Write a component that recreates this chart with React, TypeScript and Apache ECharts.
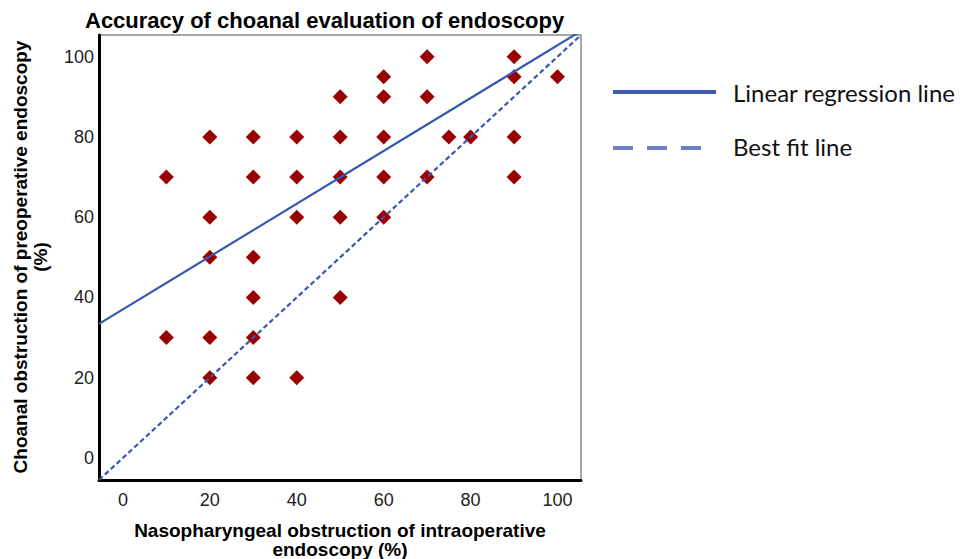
import React, { useEffect, useRef } from "react";
import * as echarts from "echarts";

const chartTitle = "Accuracy of choanal evaluation of endoscopy";
const xAxisName = "Nasopharyngeal obstruction of intraoperative\nendoscopy (%)";
const yAxisName = "Choanal obstruction of preoperative endoscopy\n(%)";
const xTicks = [0, 20, 40, 60, 80, 100];
const yTicks = [0, 20, 40, 60, 80, 100];
const intraop = [10, 10, 20, 20, 20, 20, 20, 30, 30, 30, 30, 30, 30, 40, 40, 40, 40, 50, 50, 50, 50, 50, 60, 60, 60, 60, 60, 70, 70, 70, 75, 80, 90, 90, 90, 90, 100];
const preop = [70, 30, 80, 60, 50, 30, 20, 80, 70, 50, 40, 30, 20, 80, 70, 60, 20, 90, 80, 70, 60, 40, 95, 90, 80, 70, 60, 100, 90, 70, 80, 80, 100, 95, 80, 70, 95];
const regressionX = [-5.5, 105.4];
const regressionY = [33.4, 106.4];
const bestFitX = [-5.5, 105.4];
const bestFitY = [-5.5, 105.4];
const legendNames = ["Linear regression line", "Best fit line"];

export default function App() {
  const ref = useRef<HTMLDivElement>(null);
  useEffect(() => {
    if (!ref.current) return;
    const chart = echarts.init(ref.current, null, { renderer: "svg" });
    const axisFont = "'Liberation Sans', Arial, sans-serif";
    chart.setOption({
      animation: false,
      backgroundColor: "#fff",
      grid: {
        left: 99,
        right: 392,
        top: 35,
        bottom: 79,
        show: true,
        borderColor: "#8a8a8a",
        borderWidth: 1.5,
        backgroundColor: "#fff",
      },
      xAxis: {
        type: "value",
        min: -5.5,
        max: 105.4,
        splitLine: { show: false },
        axisTick: { show: false },
        axisLine: { show: true, onZero: false, lineStyle: { color: "#000", width: 3 } },
        axisLabel: {
          customValues: xTicks,
          fontSize: 18,
          color: "#222",
          margin: 11,
          fontFamily: axisFont,
        },
      },
      yAxis: {
        type: "value",
        min: -5.5,
        max: 105.4,
        splitLine: { show: false },
        axisTick: { show: false },
        axisLine: { show: true, onZero: false, lineStyle: { color: "#000", width: 3 } },
        axisLabel: {
          customValues: yTicks,
          fontSize: 18,
          color: "#222",
          margin: 5,
          fontFamily: axisFont,
          padding: [6, 0, 0, 0],
        },
      },
      series: [
        {
          type: "scatter",
          symbol: "diamond",
          symbolSize: 15,
          itemStyle: { color: "#990000", opacity: 1 },
          data: intraop.map((x, i) => [x, preop[i]]),
          z: 2,
        },
        {
          type: "line",
          name: legendNames[0],
          showSymbol: false,
          symbol: "none",
          clip: true,
          lineStyle: { color: "#3558B0", width: 2.2 },
          data: regressionX.map((x, i) => [x, regressionY[i]]),
          z: 3,
        },
        {
          type: "line",
          name: legendNames[1],
          showSymbol: false,
          symbol: "none",
          clip: true,
          lineStyle: { color: "#3558B0", width: 2.2, type: [5, 3] },
          data: bestFitX.map((x, i) => [x, bestFitY[i]]),
          z: 3,
        },
      ],
      graphic: [
        {
          type: "text",
          left: 85,
          top: 9,
          style: {
            text: chartTitle,
            font: `bold 22px ${axisFont}`,
            fill: "#000",
          },
        },
        {
          type: "text",
          x: 30.5,
          y: 257,
          rotation: Math.PI / 2,
          style: {
            text: yAxisName,
            font: `bold 19px ${axisFont}`,
            lineHeight: 20,
            fill: "#000",
            align: "center",
            verticalAlign: "middle",
          },
        },
        {
          type: "text",
          x: 340,
          y: 540,
          style: {
            text: xAxisName,
            font: `bold 19px ${axisFont}`,
            lineHeight: 19,
            fill: "#000",
            align: "center",
            verticalAlign: "middle",
          },
        },
        {
          type: "line",
          shape: { x1: 613, y1: 92, x2: 716, y2: 92 },
          style: { stroke: "#3F5DB0", lineWidth: 4 },
        },
        {
          type: "text",
          x: 733,
          y: 92,
          style: {
            text: legendNames[0],
            font: "24px Lato, 'Open Sans', sans-serif",
            fill: "#111",
            verticalAlign: "middle",
          },
        },
        {
          type: "line",
          shape: { x1: 613, y1: 148, x2: 702, y2: 148 },
          style: { stroke: "#6A80C4", lineWidth: 4, lineDash: [20, 14] },
        },
        {
          type: "text",
          x: 733,
          y: 146,
          style: {
            text: legendNames[1],
            font: "24px Lato, 'Open Sans', sans-serif",
            fill: "#111",
            verticalAlign: "middle",
          },
        },
      ],
    });
    return () => chart.dispose();
  }, []);
  return (
    <div
      ref={ref}
      style={{ position: "fixed", left: 0, top: 0, width: 973, height: 559 }}
    />
  );
}
